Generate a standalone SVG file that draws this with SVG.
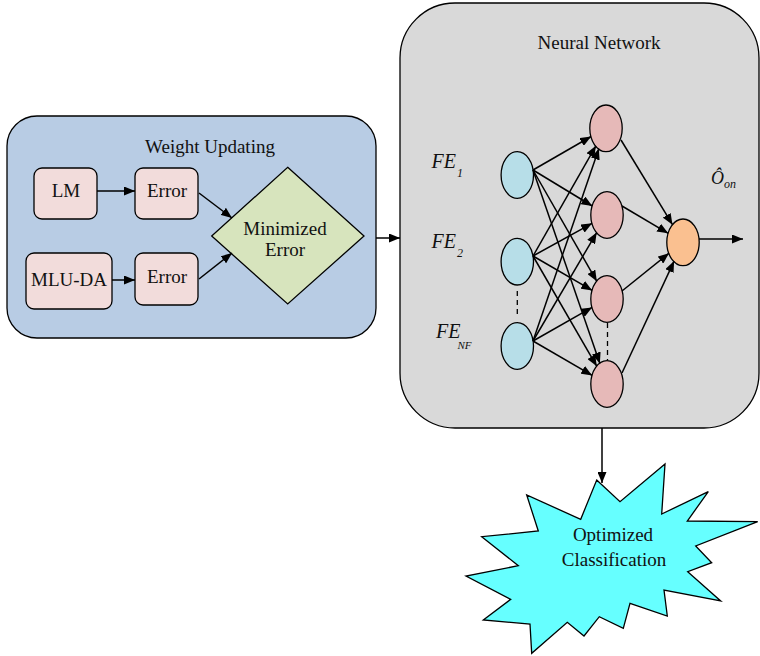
<svg xmlns="http://www.w3.org/2000/svg" width="760" height="656" viewBox="0 0 760 656">
<style>
  text { font-family: "Liberation Serif", "Times New Roman", serif; fill: #111; }
  .t { font-size: 19px; text-anchor: middle; }
  .it { font-style: italic; }
  .box { stroke: #000; stroke-width: 1.3; }
  .pink { fill: #f2dcdb; stroke: #000; stroke-width: 1.3; }
  .in { fill: #b7dee8; stroke: #000; stroke-width: 1.3; }
  .hid { fill: #e6b9b8; stroke: #000; stroke-width: 1.3; }
  .out { fill: #fac090; stroke: #000; stroke-width: 1.3; }
  .ln { stroke: #000; stroke-width: 1.5; fill: none; marker-end: url(#ah); }
  .dash { stroke: #000; stroke-width: 1.3; stroke-dasharray: 5 4; fill: none; }
</style>
<defs>
  <marker id="ah" viewBox="0 0 11 9" refX="11" refY="4.5" markerWidth="11" markerHeight="9" markerUnits="userSpaceOnUse" orient="auto">
    <path d="M0,0 L11,4.5 L0,9 Z" fill="#000"/>
  </marker>
</defs>
<rect width="760" height="656" fill="#fff"/>

<g id="weight-updating">
  <rect class="box" x="7" y="116" width="369" height="222" rx="30" fill="#b8cce4"/>
  <text class="t" x="210" y="153">Weight Updating</text>
</g>
<g id="neural-network">
  <rect class="box" x="400" y="3" width="359" height="425" rx="55" fill="#d9d9d9"/>
  <text class="t" x="599" y="49">Neural Network</text>
</g>

<g id="lm">
  <rect class="pink" x="34" y="168" width="63" height="51" rx="8"/>
  <text class="t" x="66" y="197">LM</text>
</g>
<g id="error1">
  <rect class="pink" x="135" y="168" width="63" height="51" rx="8"/>
  <text class="t" x="167" y="197">Error</text>
</g>
<g id="mlu-da">
  <rect class="pink" x="26" y="253" width="86" height="56" rx="8"/>
  <text class="t" x="69" y="286">MLU-DA</text>
</g>
<g id="error2">
  <rect class="pink" x="135" y="253" width="63" height="52" rx="8"/>
  <text class="t" x="167" y="283">Error</text>
</g>
<g id="minimized-error">
  <polygon points="287.7,167.3 364,236 287.7,304 211.7,236" fill="#d7e4bd" stroke="#000" stroke-width="1.3"/>
  <text class="t" x="285" y="235">Minimized</text>
  <text class="t" x="285" y="256">Error</text>
</g>

<g id="inputs">
  <ellipse class="in" cx="517.3" cy="175" rx="16.2" ry="23.3"/>
  <ellipse class="in" cx="517.3" cy="261.7" rx="16.2" ry="23.3"/>
  <ellipse class="in" cx="517.3" cy="346" rx="16.2" ry="23.3"/>
  <line class="dash" x1="517.3" y1="291" x2="517.3" y2="317"/>
  <text class="it" x="431.5" y="168.3" font-size="20">FE<tspan font-size="12" dx="1" dy="9">1</tspan></text>
  <text class="it" x="431.5" y="248.3" font-size="20">FE<tspan font-size="12" dx="1" dy="9">2</tspan></text>
  <text class="it" x="436" y="338.3" font-size="20">FE<tspan font-size="11" dx="-3" dy="11">NF</tspan></text>
</g>
<g id="hidden">
  <ellipse class="hid" cx="606" cy="128.3" rx="16.2" ry="23.3"/>
  <ellipse class="hid" cx="607" cy="215" rx="16.2" ry="23.3"/>
  <ellipse class="hid" cx="607" cy="299" rx="16.2" ry="23.3"/>
  <ellipse class="hid" cx="607" cy="384" rx="16.2" ry="23.3"/>
  <line class="dash" x1="607.5" y1="323" x2="607.5" y2="360"/>
</g>
<g id="output">
  <ellipse class="out" cx="683" cy="242.3" rx="16.2" ry="23.3"/>
  <text class="it" x="711" y="184.3" font-size="18">Ô<tspan font-size="12" dy="4">on</tspan></text>
</g>

<g id="optimized-classification">
  <polygon points="596.7,480 620,501.7 665,464 661.7,514 708.3,491.7 687.3,521 757.7,521.7 695.7,546 711.7,562.7 687.7,571.7 720.7,601 664,590 667.3,616 630,603.3 623.3,628.3 599.3,616.7 584,636 567.3,622.3 531.7,653.3 530,624 483.3,620 510.7,599.3 466,576 518.3,565.7 481.7,536.7 538.3,531 526.7,495 580.7,519.3" fill="#66ffff" stroke="#000" stroke-width="1.3"/>
  <text class="t" x="613" y="541">Optimized</text>
  <text class="t" x="614" y="566">Classification</text>
</g>

<g id="connectors">
  <line class="ln" x1="97" y1="191" x2="135" y2="191"/>
  <line class="ln" x1="112" y1="280" x2="135" y2="280"/>
  <line class="ln" x1="199" y1="193" x2="232" y2="218"/>
  <line class="ln" x1="199" y1="279" x2="232" y2="253"/>
  <line class="ln" x1="376" y1="238" x2="400" y2="238"/>
  <line class="ln" x1="602" y1="428" x2="602" y2="483"/>
  <line class="ln" x1="699" y1="239" x2="743" y2="239"/>

  <line class="ln" x1="533" y1="170" x2="591.1" y2="136.5"/>
  <line class="ln" x1="533" y1="170" x2="592.3" y2="206"/>
  <line class="ln" x1="533" y1="170" x2="596.8" y2="281.3"/>
  <line class="ln" x1="533" y1="170" x2="599.9" y2="363.4"/>
  <line class="ln" x1="533" y1="256" x2="595.9" y2="145.8"/>
  <line class="ln" x1="533" y1="256" x2="592.1" y2="223.3"/>
  <line class="ln" x1="533" y1="256" x2="592.2" y2="290.4"/>
  <line class="ln" x1="533" y1="256" x2="596.8" y2="366.3"/>
  <line class="ln" x1="533" y1="341" x2="598.9" y2="148.6"/>
  <line class="ln" x1="533" y1="341" x2="596.7" y2="232.6"/>
  <line class="ln" x1="533" y1="341" x2="592.1" y2="307.4"/>
  <line class="ln" x1="533" y1="341" x2="592.2" y2="375.4"/>

  <line class="ln" x1="621" y1="140" x2="672.5" y2="224.7"/>
  <line class="ln" x1="622" y1="206" x2="668.2" y2="233.3"/>
  <line class="ln" x1="622" y1="291" x2="669" y2="253.2"/>
  <line class="ln" x1="622" y1="373" x2="674.1" y2="261.1"/>
</g>
</svg>
